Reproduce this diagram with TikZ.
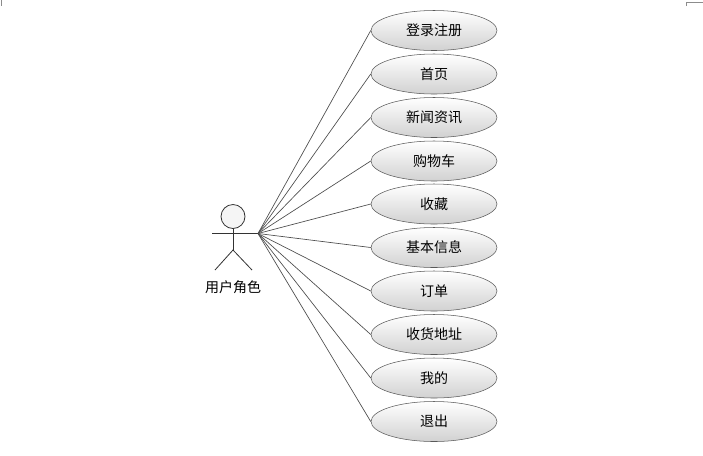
\documentclass[tikz,border=0pt]{standalone}
\usepackage{fontspec}
\setmainfont{Noto Sans CJK SC}
\usetikzlibrary{shapes.geometric}

\tikzset{
  usecase/.style={ellipse,draw=black!65,top color=white,bottom color=black!18,
    minimum width=94.5pt,minimum height=30pt,inner sep=0pt,font=\fontsize{10.5}{12}\selectfont},
  assoc/.style={draw=black!70,line width=0.5pt},
  stick/.style={draw=black!80,line width=0.6pt}
}

\begin{document}
\begin{tikzpicture}[x=0.75pt,y=0.75pt]
  \useasboundingbox (0,-455) rectangle (703,0);

  % crop marks
  \draw[black!45,line width=0.6pt] (1.5,0) -- (1.5,-6);
  \draw[black!45,line width=0.6pt] (686,-6) -- (686,-2.5) -- (703,-2.5);

  % actor
  \draw[stick,fill=black!4] (233,-216.5) circle[radius=9pt];
  \draw[stick] (233,-229) -- (233,-250);
  \draw[stick] (212,-233.5) -- (258,-233.5);
  \draw[stick] (215,-270) -- (233,-250) -- (252,-270);
  \coordinate (hand) at (258,-233.5);
  \node[font=\fontsize{10.5}{12}\selectfont] (role) at (233,-287) {用户角色};

  % use cases
  \node[usecase] (login)   at (434,-30.5)  {登录注册};
  \node[usecase] (home)    at (434,-74)    {首页};
  \node[usecase] (news)    at (434,-117.5) {新闻资讯};
  \node[usecase] (cart)    at (434,-161)   {购物车};
  \node[usecase] (fav)     at (434,-204)   {收藏};
  \node[usecase] (info)    at (434,-247.5) {基本信息};
  \node[usecase] (orders)  at (434,-291)   {订单};
  \node[usecase] (address) at (434,-334.5) {收货地址};
  \node[usecase] (mine)    at (434,-378)   {我的};
  \node[usecase] (logout)  at (434,-421.5) {退出};

  \draw[assoc] (hand) -- (login.west);
  \draw[assoc] (hand) -- (home.west);
  \draw[assoc] (hand) -- (news.west);
  \draw[assoc] (hand) -- (cart.west);
  \draw[assoc] (hand) -- (fav.west);
  \draw[assoc] (hand) -- (info.west);
  \draw[assoc] (hand) -- (orders.west);
  \draw[assoc] (hand) -- (address.west);
  \draw[assoc] (hand) -- (mine.west);
  \draw[assoc] (hand) -- (logout.west);
\end{tikzpicture}
\end{document}
